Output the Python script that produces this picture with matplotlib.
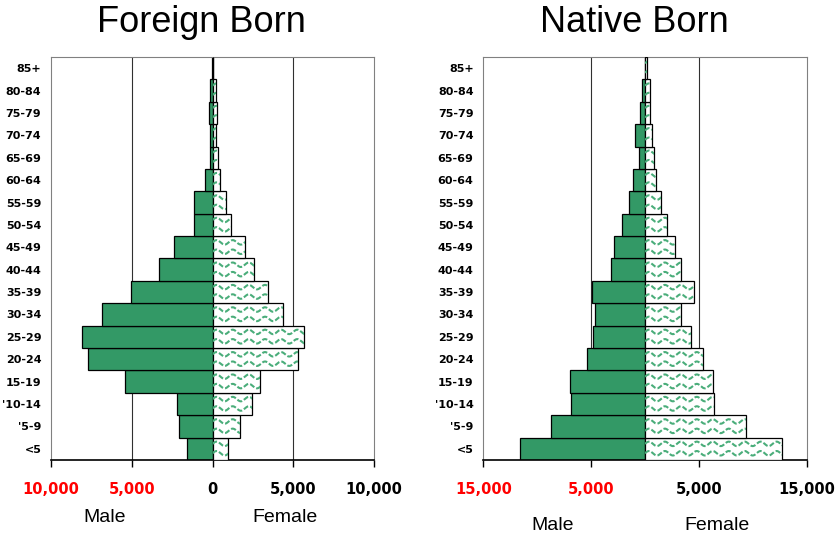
import matplotlib
matplotlib.use("Agg")
import matplotlib.pyplot as plt  # noqa: E402
import numpy as np  # noqa: E402

ages = ["<5", "'5-9", "'10-14", "15-19", "20-24", "25-29", "30-34", "35-39",
        "40-44", "45-49", "50-54", "55-59", "60-64", "65-69", "70-74",
        "75-79", "80-84", "85+"]

foreign_male = [1570, 2045, 2170, 5430, 7680, 8075, 6815, 5020,
                3305, 2375, 1140, 1140, 455, 125, 165, 205, 165, 50]
foreign_female = [930, 1715, 2440, 2930, 5310, 5680, 4380, 3450,
                  2580, 2000, 1140, 850, 455, 350, 205, 290, 205, 60]

native_male = [11600, 8740, 6820, 6940, 5370, 4780, 4660, 4940,
               3180, 2870, 2100, 1510, 1110, 590, 895, 495, 310, 30]
native_female = [12690, 9410, 6360, 6270, 5340, 4260, 3300, 4510,
                 3300, 2780, 2010, 1480, 990, 865, 620, 430, 430, 215]

left_ticks = [-10000, -5000, 0, 5000, 10000]
left_labels = ["10,000", "5,000", "0", "5,000", "10,000"]
right_ticks = [-15000, -5000, 5000, 15000]
right_labels = ["15,000", "5,000", "5,000", "15,000"]

GREEN = "#339966"
WAVE = "#4aad7a"


def wavy_fill(ax, bars, period):
    # the "wave" pattern Excel uses; matplotlib has no such hatch
    for bar in bars:
        x0, y0 = bar.get_x(), bar.get_y()
        w, h = bar.get_width(), bar.get_height()
        xs = np.linspace(x0, x0 + w + period, 200)
        for frac in (0.3, 0.72):
            ys = y0 + frac * h + 0.1 * np.sin(2 * np.pi * (xs - x0) / period)
            ln, = ax.plot(xs, ys, color=WAVE, lw=1.5, ls=(0, (2.5, 1.0)),
                          zorder=3.5)
            ln.set_clip_path(bar)


def panel(ax, male, female, lim, ticks, labels, period):
    y = np.arange(len(ages))
    ax.barh(y, [-m for m in male], height=1, color=GREEN,
            edgecolor="black", linewidth=0.9, zorder=2)
    fb = ax.barh(y, female, height=1, color="white",
                 edgecolor="black", linewidth=0.9, zorder=3)
    wavy_fill(ax, fb, period)
    for g in (-5000, 5000):
        ax.axvline(g, color="#303030", lw=0.8, zorder=1)
    ax.set_xlim(-lim, lim)
    ax.set_ylim(-0.5, len(ages) - 0.5)
    ax.set_yticks(y)
    ax.set_yticklabels(ages, fontsize=8, fontweight="bold",
                       family="DejaVu Sans")
    ax.tick_params(axis="y", length=0, pad=7)
    ax.set_xticks(ticks)
    ax.set_xticklabels(labels, fontsize=10.5, fontweight="bold",
                       family="DejaVu Sans")
    for t, v in zip(ax.get_xticklabels(), ticks):
        t.set_color("red" if v < 0 else "black")
    ax.tick_params(axis="x", direction="out", length=5, width=1, pad=11)
    for s in ("left", "top", "right"):
        ax.spines[s].set_color("#808080")
    ax.spines["bottom"].set_linewidth(1.2)


fig = plt.figure(figsize=(8.39, 5.39), dpi=100)
ax1 = fig.add_axes([0.0608, 0.1466, 0.385, 0.7477])
ax2 = fig.add_axes([0.576, 0.1466, 0.3855, 0.7477])

panel(ax1, foreign_male, foreign_female, 10000, left_ticks, left_labels, 1000)
panel(ax2, native_male, native_female, 15000, right_ticks, right_labels, 1480)

tfont = dict(family="Liberation Sans", fontsize=26, ha="center", va="center")
fig.text(201 / 839, 1 - 22 / 539, "Foreign Born", **tfont)
fig.text(634 / 839, 1 - 22 / 539, "Native Born", **tfont)

lfont = dict(family="Liberation Sans", fontsize=14, ha="center", va="center")
fig.text(105 / 839, 1 - 518 / 539, "Male", **lfont)
fig.text(285 / 839, 1 - 518 / 539, "Female", **lfont)
fig.text(553 / 839, 1 - 526 / 539, "Male", **lfont)
fig.text(717 / 839, 1 - 526 / 539, "Female", **lfont)

fig.savefig("out.png", dpi=100)
